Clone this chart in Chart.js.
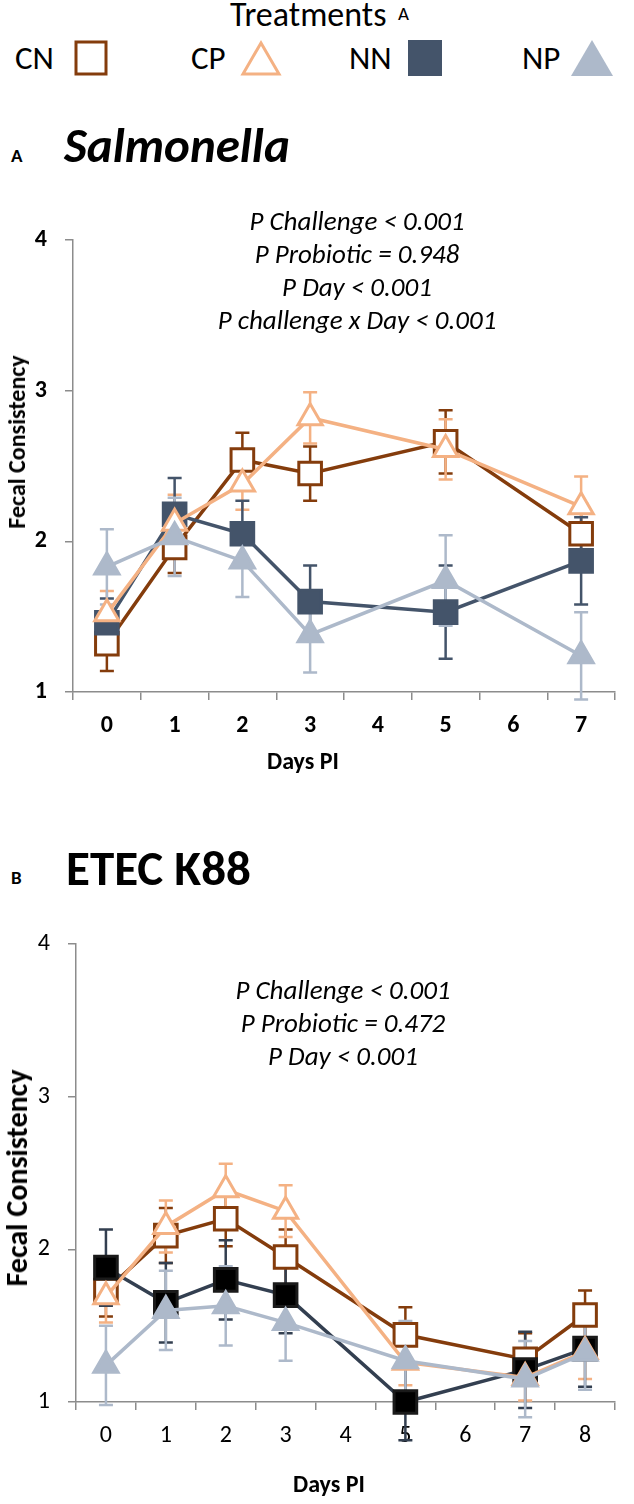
<!DOCTYPE html>
<html>
<head>
<meta charset="utf-8">
<script src="https://cdn.jsdelivr.net/npm/chart.js@4.4.1/dist/chart.umd.min.js"></script>
<style>
body { margin: 0; background: #fff; }
#page { position: relative; width: 634px; height: 1504px; overflow: hidden; font-family: Carlito, Lato, sans-serif; color: #000; }
canvas { position: absolute; left: 0; }
.t { position: absolute; line-height: 1; white-space: nowrap; }
.b { font-weight: bold; }
.note { position: absolute; font-style: italic; font-size: 27px; line-height: 33px; text-align: center; white-space: nowrap; transform: translateX(-50%); }
.ytitle { position: absolute; font-weight: bold; white-space: nowrap; line-height: 1; transform: translate(-50%, -50%) rotate(-90deg); }
svg { position: absolute; }
</style>
</head>
<body>
<div id="page">
  <canvas id="chartA" width="634" height="590" style="top:200px"></canvas>
  <canvas id="chartB" width="634" height="604" style="top:900px"></canvas>

  <div class="t" style="left:230px;top:-2px;font-size:34px">Treatments</div>
  <div class="t" style="left:398px;top:4px;font-size:19px">A</div>

  <div class="t" style="left:15px;top:42px;font-size:33px">CN</div>
  <svg style="left:74px;top:40px" width="34" height="36"><rect x="2" y="2" width="30" height="32" fill="#fff" stroke="#843C0C" stroke-width="3"/></svg>
  <div class="t" style="left:191px;top:42px;font-size:33px">CP</div>
  <svg style="left:240px;top:40px" width="42" height="36"><polygon points="21,3 39,34 3,34" fill="#fff" stroke="#F4B183" stroke-width="3"/></svg>
  <div class="t" style="left:349px;top:42px;font-size:33px">NN</div>
  <svg style="left:408px;top:40px" width="34" height="36"><rect x="0" y="0" width="34" height="36" fill="#44546A"/></svg>
  <div class="t" style="left:522px;top:42px;font-size:33px">NP</div>
  <svg style="left:571px;top:40px" width="42" height="36"><polygon points="21,0 42,36 0,36" fill="#ADB9CA"/></svg>

  <div class="t b" style="left:11px;top:146px;font-size:19px">A</div>
  <div class="t b" style="left:64px;top:121px;font-size:49px;font-style:italic">Salmonella</div>
  <div class="note" style="left:357px;top:204px">P Challenge &lt; 0.001<br>P Probiotic = 0.948<br>P Day &lt; 0.001<br>P challenge x Day &lt; 0.001</div>
  <div class="ytitle" style="left:17px;top:442px;font-size:24px">Fecal Consistency</div>
  <div class="t b" style="left:267px;top:749px;font-size:24px">Days PI</div>

  <div class="t b" style="left:11px;top:868px;font-size:19px">B</div>
  <div class="t b" style="left:66px;top:844px;font-size:49px">ETEC K88</div>
  <div class="note" style="left:343px;top:973px">P Challenge &lt; 0.001<br>P Probiotic = 0.472<br>P Day &lt; 0.001</div>
  <div class="ytitle" style="left:17px;top:1178px;font-size:30px">Fecal Consistency</div>
  <div class="t b" style="left:293px;top:1472px;font-size:24px">Days PI</div>
</div>

<script>
// panel A: Salmonella
const daysA = ['0', '1', '2', '3', '4', '5', '6', '7'];
const cnA = [1.32, 1.96, 2.54, 2.45, null, 2.66, null, 2.05];
const cnAErr = [0.18, 0.17, 0.18, 0.18, null, 0.21, null, 0.20];
const cpA = [1.52, 2.12, 2.38, 2.82, null, 2.61, null, 2.23];
const cpAErr = [0.15, 0.19, 0.17, 0.17, null, 0.20, null, 0.20];
const nnA = [1.46, 2.18, 2.05, 1.60, null, 1.53, null, 1.87];
const nnAErr = [0.16, 0.24, 0.22, 0.24, null, 0.31, null, 0.29];
const npA = [1.83, 2.03, 1.87, 1.38, null, 1.74, null, 1.24];
const npAErr = [0.25, 0.26, 0.24, 0.25, null, 0.30, null, 0.29];

// panel B: ETEC K88
const daysB = ['0', '1', '2', '3', '4', '5', '6', '7', '8'];
const cnB = [1.73, 2.09, 2.20, 1.95, null, 1.44, null, 1.28, 1.57];
const cnBErr = [0.17, 0.18, 0.18, 0.18, null, 0.18, null, 0.17, 0.16];
const cpB = [1.69, 2.15, 2.39, 2.25, null, 1.26, null, 1.16, 1.33];
const cpBErr = [0.17, 0.17, 0.17, 0.17, null, 0.15, null, 0.15, 0.18];
const nnB = [1.88, 1.65, 1.80, 1.70, null, 1.00, null, 1.21, 1.35];
const nnBErr = [0.25, 0.26, 0.26, 0.25, null, 0.25, null, 0.25, 0.25];
const npB = [1.24, 1.60, 1.63, 1.52, null, 1.27, null, 1.15, 1.32];
const npBErr = [0.26, 0.26, 0.26, 0.25, null, 0.26, null, 0.25, 0.24];

const yTicks = [1, 2, 3, 4];

const FONT = 'Carlito, Lato, sans-serif';
const AXIS = '#8c8c8c';

// whiskers with caps, drawn under the lines and markers
const errorBars = {
  id: 'errorBars',
  beforeDatasetsDraw(chart) {
    const ctx = chart.ctx;
    const y = chart.scales.y;
    ctx.save();
    chart.data.datasets.forEach((ds, i) => {
      const meta = chart.getDatasetMeta(i);
      ctx.strokeStyle = ds.errColor;
      ctx.lineWidth = 2.5;
      meta.data.forEach((pt, j) => {
        const v = ds.data[j], e = ds.errors[j];
        if (v == null || e == null) return;
        const x = pt.x;
        const hi = y.getPixelForValue(v + e);
        const lo = y.getPixelForValue(v - e);
        ctx.beginPath();
        ctx.moveTo(x, hi); ctx.lineTo(x, lo);
        ctx.moveTo(x - 7, hi); ctx.lineTo(x + 7, hi);
        ctx.moveTo(x - 7, lo); ctx.lineTo(x + 7, lo);
        ctx.stroke();
      });
    });
    ctx.restore();
  }
};

function series(name, values, errors, color, fill, shape, order, edge) {
  return {
    label: name,
    data: values,
    errors: errors,
    errColor: color,
    borderColor: color,
    backgroundColor: fill,
    pointBackgroundColor: fill,
    pointBorderColor: edge || color,
    pointStyle: shape,
    pointRadius: shape === 'rect' ? 16 : 14,
    pointBorderWidth: 3,
    borderWidth: 3.5,
    spanGaps: true,
    tension: 0,
    clip: false,
    order: order
  };
}

function makeChart(id, days, datasets, o) {
  return new Chart(document.getElementById(id), {
    type: 'line',
    data: { labels: days, datasets: datasets },
    options: {
      responsive: false,
      animation: false,
      events: [],
      layout: { padding: { top: o.top, left: 0, right: 0, bottom: 0 } },
      plugins: { legend: { display: false }, tooltip: { enabled: false } },
      scales: {
        x: {
          offset: true,
          grid: { offset: true, drawOnChartArea: false, tickLength: 8, color: AXIS, lineWidth: 1.5 },
          border: { color: AXIS, width: 1.5 },
          ticks: { color: '#000', padding: 12, maxRotation: 0, autoSkip: false,
                   font: { family: FONT, size: 24, weight: o.weight } },
          afterFit(s) { s.height = o.xh; }
        },
        y: {
          min: 1, max: 4,
          afterBuildTicks(s) { s.ticks = yTicks.map(v => ({ value: v })); },
          grid: { drawOnChartArea: false, tickLength: 8, color: AXIS, lineWidth: 1.5 },
          border: { color: AXIS, width: 1.5 },
          ticks: { color: '#000', padding: 18, font: { family: FONT, size: 24, weight: o.weight } },
          afterFit(s) { s.width = o.yw; }
        }
      }
    },
    plugins: [errorBars]
  });
}

makeChart('chartA', daysA, [
  series('CN', cnA, cnAErr, '#843C0C', '#ffffff', 'rect', 3),
  series('CP', cpA, cpAErr, '#F4B183', '#ffffff', 'triangle', 1),
  series('NN', nnA, nnAErr, '#44546A', '#44546A', 'rect', 2),
  series('NP', npA, npAErr, '#ADB9CA', '#ADB9CA', 'triangle', 0)
], { top: 40, xh: 98, yw: 73, weight: 'bold' });

makeChart('chartB', daysB, [
  series('CN', cnB, cnBErr, '#843C0C', '#ffffff', 'rect', 3),
  series('CP', cpB, cpBErr, '#F4B183', '#ffffff', 'triangle', 1),
  series('NN', nnB, nnBErr, '#333F50', '#000000', 'rect', 2, '#1a1a1a'),
  series('NP', npB, npBErr, '#ADB9CA', '#ADB9CA', 'triangle', 0)
], { top: 44, xh: 102, yw: 76, weight: 'normal' });
</script>
</body>
</html>
